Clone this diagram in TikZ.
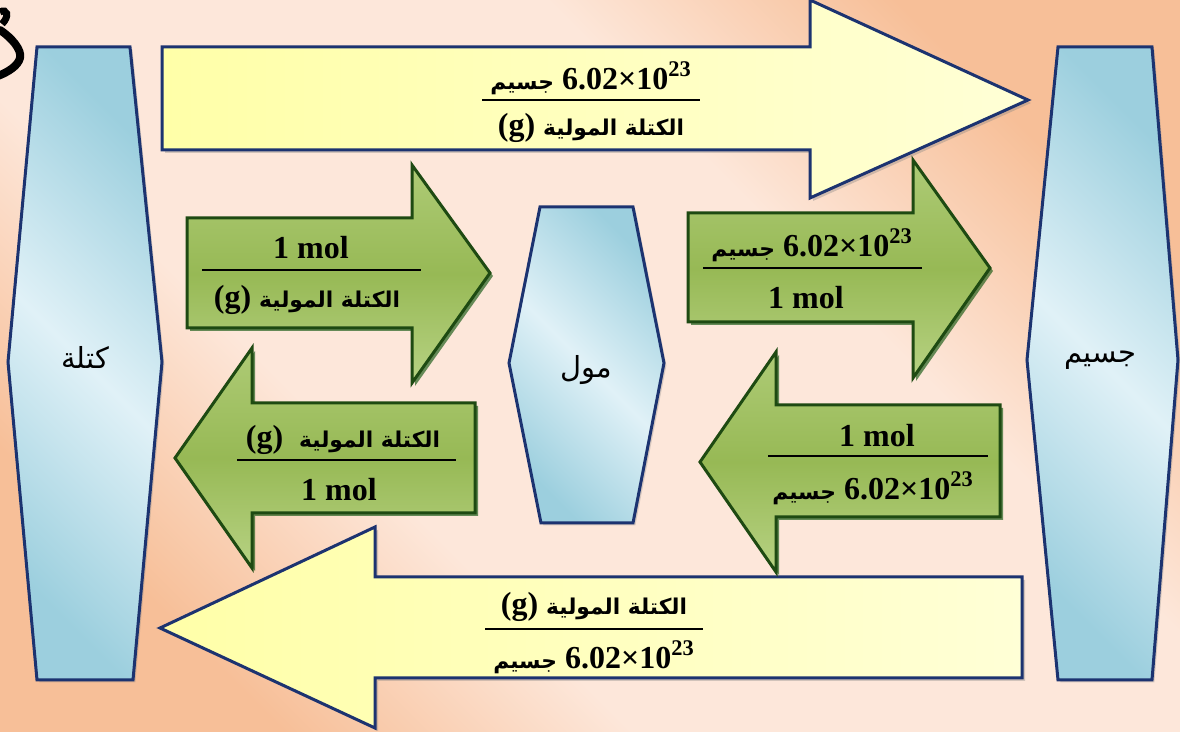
\documentclass[tikz,border=0pt]{standalone}
\usepackage{fontspec}
\setmainfont{Liberation Serif}
\newfontfamily\arabicfont[Script=Arabic]{DejaVu Sans}
\newfontfamily\arabicsmall[Script=Arabic,Scale=0.68]{DejaVu Sans}
\TeXXeTstate=1
\usetikzlibrary{shadows}

\definecolor{navyline}{HTML}{1C3370}
\definecolor{greenline}{HTML}{1E4A12}
\definecolor{bgorange}{HTML}{F7BF98}
\definecolor{bglight}{HTML}{FDE7DA}
\definecolor{hexdark}{HTML}{9CCFDE}
\definecolor{hexlight}{HTML}{E0F1F7}
\definecolor{yellowdark}{HTML}{FFFFA8}
\definecolor{yellowlight}{HTML}{FFFFD6}
\definecolor{greentop}{HTML}{AECB76}
\definecolor{greenmid}{HTML}{97B955}
\definecolor{greenbot}{HTML}{B7D283}

\pgfdeclareverticalshading{pageshade}{100bp}{color(0bp)=(bgorange); color(25bp)=(bgorange); color(38bp)=(bglight); color(62bp)=(bglight); color(75bp)=(bgorange); color(100bp)=(bgorange)}

\newcommand{\particleword}{{\arabicsmall\bfseries\beginR جسيم\endR}}
\newcommand{\molarword}{{\arabicsmall\bfseries\beginR الكتلة المولية\endR}}
\newcommand{\avogadro}{6.02×10\textsuperscript{23}}

\begin{document}
\begin{tikzpicture}[
    x=0.5pt, y=-0.5pt,
    % Styles
    hexbox/.style={draw=navyline, line width=1.5pt, top color=hexdark, bottom color=hexdark, middle color=hexlight, shading angle=-45,
        drop shadow={shadow xshift=1.2pt, shadow yshift=-1.2pt, opacity=0.3}},
    yellowarrow/.style={draw=navyline, line width=1.5pt, left color=yellowdark, right color=yellowlight,
        drop shadow={shadow xshift=1.5pt, shadow yshift=-1.5pt, opacity=0.35}},
    greenarrow/.style={draw=greenline, line width=1.5pt, top color=greentop, bottom color=greenbot, middle color=greenmid,
        drop shadow={shadow xshift=1.5pt, shadow yshift=-1.5pt, fill=black!70!green, opacity=0.6}},
    fractext/.style={font=\bfseries\fontsize{16}{18}\selectfont, inner sep=0pt},
    fracline/.style={line width=1pt, black},
    hexlabel/.style={font=\arabicfont\fontsize{14.5}{16}\selectfont, inner sep=0pt},
]

% === BACKGROUND ===
\useasboundingbox (0,0) rectangle (1180,732);
\fill[shading=pageshade, shading angle=-45] (0,0) rectangle (1180,732);

% stray glyph stroke at the top left corner
\draw[line width=4pt, line cap=round, black] (0,30) .. controls (12,38) and (22,50) .. (20,58) .. controls (18,66) and (8,72) .. (-2,76);
\draw[line width=3.5pt, black] (0,12) .. controls (7,8) and (10,16) .. (2,24);

% === HEXAGONS ===
\draw[hexbox] (37,47) -- (130,47) -- (162,362) -- (133,680) -- (37,680) -- (8,362) -- cycle;
\draw[hexbox] (540,207) -- (633,207) -- (664,363) -- (633,523) -- (541,523) -- (509,363) -- cycle;
\draw[hexbox] (1058,47) -- (1152,47) -- (1178,360) -- (1152,680) -- (1058,680) -- (1027,360) -- cycle;

\node[hexlabel] (mass) at (85,357) {\beginR كتلة\endR};
\node[hexlabel] (mole) at (586,370) {\beginR مول\endR};
\node[hexlabel] (particle) at (1100,360) {\beginR جسيم\endR};

% === LONG ARROWS (mass <-> particle) ===
\draw[yellowarrow] (162,47) -- (810,47) -- (810,0) -- (1028,100) -- (810,198) -- (810,150) -- (162,150) -- cycle;
\draw[yellowarrow] (1022,577) -- (375,577) -- (375,527) -- (160,628) -- (375,728) -- (375,678) -- (1022,678) -- cycle;

\node[fractext] (topnum) at (591,78) {\particleword{} \avogadro};
\draw[fracline] (482,100) -- (700,100);
\node[fractext] (topden) at (591,128) {(g) \molarword};

\node[fractext] (botnum) at (594,607) {(g) \molarword};
\draw[fracline] (485,629) -- (703,629);
\node[fractext] (botden) at (594,657) {\particleword{} \avogadro};

% === SHORT ARROWS (via mole) ===
\draw[greenarrow] (187,218) -- (412,218) -- (412,165) -- (490,273) -- (412,383) -- (412,328) -- (187,328) -- cycle;
\draw[greenarrow] (688,213) -- (913,213) -- (913,160) -- (990,268) -- (913,378) -- (913,322) -- (688,322) -- cycle;
\draw[greenarrow] (475,403) -- (252,403) -- (252,348) -- (175,458) -- (252,568) -- (252,513) -- (475,513) -- cycle;
\draw[greenarrow] (1000,405) -- (776,405) -- (776,352) -- (700,462) -- (776,572) -- (776,517) -- (1000,517) -- cycle;

\node[fractext] (mmnum) at (311,248) {1 mol};
\draw[fracline] (202,270) -- (421,270);
\node[fractext] (mmden) at (307,300) {(g) \molarword};

\node[fractext] (mpnum) at (812,245) {\particleword{} \avogadro};
\draw[fracline] (703,268) -- (922,268);
\node[fractext] (mpden) at (806,298) {1 mol};

\node[fractext] (pmnum) at (877,436) {1 mol};
\draw[fracline] (768,456) -- (988,456);
\node[fractext] (pmden) at (873,488) {\particleword{} \avogadro};

\node[fractext] (mknum) at (343,440) {(g)\ \ \molarword};
\draw[fracline] (237,460) -- (456,460);
\node[fractext] (mkden) at (339,490) {1 mol};

\end{tikzpicture}
\end{document}
